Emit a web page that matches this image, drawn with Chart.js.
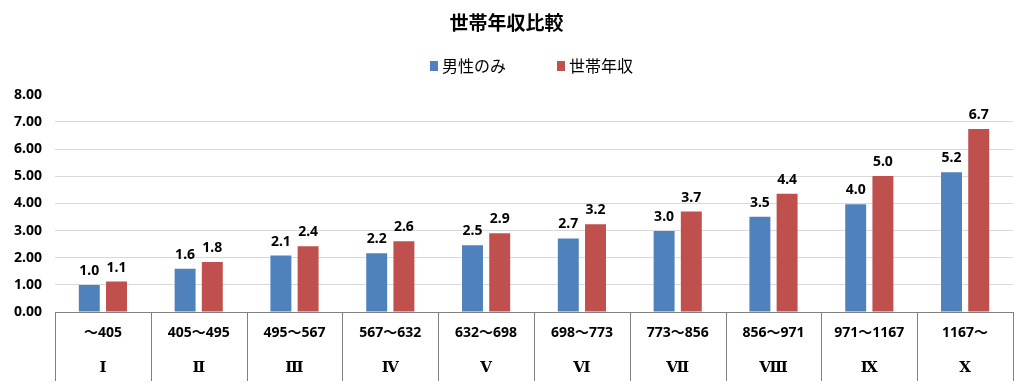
<!DOCTYPE html>
<html>
<head>
<meta charset="utf-8">
<script src="https://cdn.jsdelivr.net/npm/chart.js@4"></script>
<style>
html,body{margin:0;padding:0;background:#fff;}
#wrap{width:1024px;height:386px;}
</style>
</head>
<body>
<div id="wrap"><canvas id="c" width="1024" height="386"></canvas></div>
<script>
const chartTitle = '世帯年収比較';
const rangeLabels = ['～405','405～495','495～567','567～632','632～698','698～773','773～856','856～971','971～1167','1167～'];
const romanLabels = ['Ⅰ','Ⅱ','Ⅲ','Ⅳ','Ⅴ','Ⅵ','Ⅶ','Ⅷ','Ⅸ','Ⅹ'];
const seriesNames = ['男性のみ','世帯年収'];
const maleOnly = [0.99,1.59,2.08,2.16,2.46,2.71,2.98,3.51,3.97,5.15];
const household = [1.12,1.84,2.42,2.61,2.90,3.23,3.70,4.36,5.01,6.74];
const yTicks = [0,1,2,3,4,5,6,7,8];

const FONT = "'Noto Sans','Noto Sans CJK JP',sans-serif";
const JPFONT = "'Noto Sans CJK JP','Noto Sans',sans-serif";
const ROMANFONT = "'DejaVu Serif','Noto Sans CJK JP',serif";
const colors = ['#4f81bd','#c0504d'];

const dataLabelPlugin = {
  id:'dataLabels',
  afterDatasetsDraw(chart){
    const ctx = chart.ctx;
    ctx.save();
    ctx.font = 'bold 14px ' + FONT;
    ctx.fillStyle = '#000';
    ctx.textAlign = 'center';
    ctx.textBaseline = 'middle';
    chart.data.datasets.forEach((ds, di) => {
      const meta = chart.getDatasetMeta(di);
      meta.data.forEach((el, i) => {
        ctx.fillText(ds.data[i].toFixed(1), el.x, el.y - 14);
      });
    });
    ctx.restore();
  }
};

const dividerPlugin = {
  id:'categoryDividers',
  afterDraw(chart){
    const xs = chart.scales.x;
    const ctx = chart.ctx;
    const yTop = chart.chartArea.bottom;
    const yBot = chart.scales.x2.bottom - 5;
    ctx.save();
    ctx.strokeStyle = '#808080';
    ctx.lineWidth = 1;
    ctx.beginPath();
    for (let i = 0; i <= rangeLabels.length; i++) {
      const x = Math.round(xs.getPixelForValue(i - 0.5)) + 0.5;
      ctx.moveTo(x, yTop);
      ctx.lineTo(x, yBot);
    }
    ctx.stroke();
    ctx.restore();
  }
};

const legendPlugin = {
  id:'customLegend',
  afterDraw(chart){
    const ctx = chart.ctx;
    const cx = chart.width / 2;
    const y = 66;
    const starts = [cx - 82, cx + 45];
    ctx.save();
    ctx.font = '16px ' + JPFONT;
    ctx.textBaseline = 'middle';
    ctx.textAlign = 'left';
    chart.data.datasets.forEach((ds, i) => {
      ctx.fillStyle = ds.backgroundColor;
      ctx.fillRect(starts[i], y - 5, 8, 10);
      ctx.fillStyle = '#000';
      ctx.fillText(ds.label, starts[i] + 12, y);
    });
    ctx.restore();
  }
};

new Chart(document.getElementById('c'), {
  type:'bar',
  data:{
    labels: rangeLabels,
    datasets:[
      {label: seriesNames[0], data: maleOnly, backgroundColor: colors[0], categoryPercentage:0.568, barPercentage:0.77},
      {label: seriesNames[1], data: household, backgroundColor: colors[1], categoryPercentage:0.568, barPercentage:0.77}
    ]
  },
  options:{
    responsive:false,
    animation:false,
    layout:{padding:{left:0,right:11,top:0,bottom:0}},
    plugins:{
      legend:{display:false},
      tooltip:{enabled:false},
      title:{display:true, text: chartTitle, color:'#000', font:{family:JPFONT, size:19, weight:'bold'}, padding:{top:11,bottom:61}}
    },
    scales:{
      x:{
        type:'category',
        labels: rangeLabels,
        offset:true,
        afterFit(s){ s.height = 30; },
        grid:{offset:true, drawOnChartArea:false, drawTicks:false},
        border:{display:true, color:'#808080', width:1},
        ticks:{padding:13, color:'#000', font:{family:FONT, size:14, weight:'bold'}, maxRotation:0, autoSkip:false}
      },
      x2:{
        type:'category',
        labels: romanLabels,
        position:'bottom',
        offset:true,
        afterFit(s){ s.height = 44; },
        grid:{display:false, drawTicks:false},
        border:{display:false},
        ticks:{padding:17, color:'#000', font:{family:ROMANFONT, size:15, weight:'bold'}, maxRotation:0, autoSkip:false}
      },
      y:{
        min:0, max:8,
        afterFit(s){ s.width = 55; },
        afterBuildTicks(s){ s.ticks = yTicks.map(v => ({value:v})); },
        grid:{color:(c) => c.tick && c.tick.value === 8 ? 'rgba(0,0,0,0)' : '#d9d9d9', drawTicks:false},
        border:{display:false},
        ticks:{padding:13, color:'#000', font:{family:FONT, size:14, weight:'bold'}, callback:(v) => Number(v).toFixed(2)}
      }
    }
  },
  plugins:[dataLabelPlugin, dividerPlugin, legendPlugin]
});
</script>
</body>
</html>
